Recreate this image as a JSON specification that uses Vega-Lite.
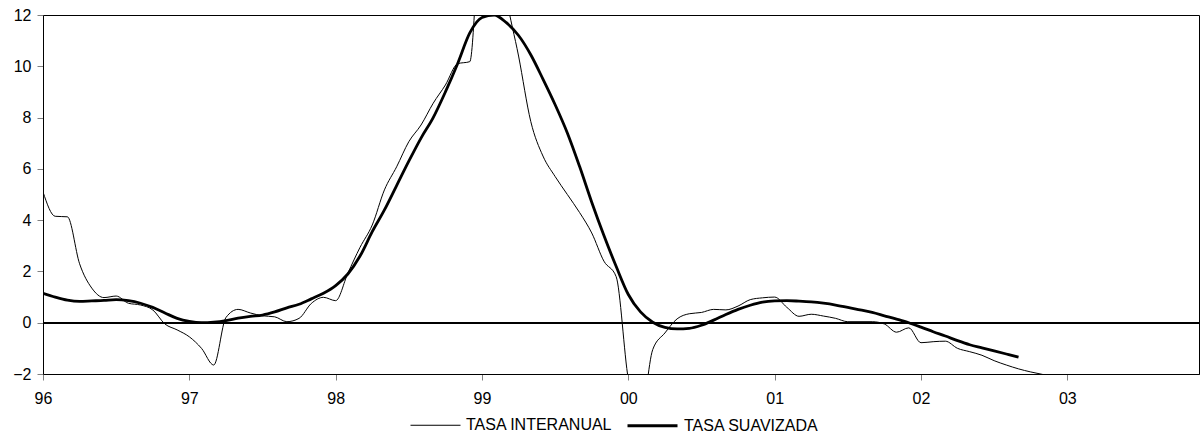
{
  "$schema": "https://vega.github.io/schema/vega-lite/v6.json",
  "width": 1156,
  "height": 359,
  "autosize": "none",
  "padding": {"left": 43, "top": 15, "right": 3, "bottom": 62},
  "background": "white",
  "config": {
    "font": "Liberation Sans",
    "view": {"stroke": "#000", "strokeWidth": 1},
    "axis": {"labelFont": "Liberation Sans", "labelFontSize": 16, "labelColor": "#000", "domainColor": "#000", "tickColor": "#808080", "grid": false, "title": null}
  },
  "data": {
    "values": [
      {"mes": 0, "interanual": 5.1, "suavizada": 1.15},
      {"mes": 1, "interanual": 4.15, "suavizada": 1.0},
      {"mes": 2, "interanual": 4.13, "suavizada": 0.88},
      {"mes": 3, "interanual": 2.3, "suavizada": 0.83},
      {"mes": 4, "interanual": 1.35, "suavizada": 0.85},
      {"mes": 5, "interanual": 0.98, "suavizada": 0.87},
      {"mes": 6, "interanual": 1.04, "suavizada": 0.9},
      {"mes": 7, "interanual": 0.76, "suavizada": 0.86},
      {"mes": 8, "interanual": 0.69, "suavizada": 0.76},
      {"mes": 9, "interanual": 0.5, "suavizada": 0.6},
      {"mes": 10, "interanual": -0.05, "suavizada": 0.38},
      {"mes": 11, "interanual": -0.28, "suavizada": 0.17},
      {"mes": 12, "interanual": -0.55, "suavizada": 0.05},
      {"mes": 13, "interanual": -1.0, "suavizada": 0.0},
      {"mes": 14, "interanual": -1.65, "suavizada": 0.02},
      {"mes": 15, "interanual": 0.2, "suavizada": 0.08},
      {"mes": 16, "interanual": 0.52, "suavizada": 0.18},
      {"mes": 17, "interanual": 0.38, "suavizada": 0.25},
      {"mes": 18, "interanual": 0.27, "suavizada": 0.3},
      {"mes": 19, "interanual": 0.23, "suavizada": 0.42},
      {"mes": 20, "interanual": 0.04, "suavizada": 0.58},
      {"mes": 21, "interanual": 0.17, "suavizada": 0.72},
      {"mes": 22, "interanual": 0.75, "suavizada": 0.93},
      {"mes": 23, "interanual": 0.99, "suavizada": 1.15},
      {"mes": 24, "interanual": 0.86, "suavizada": 1.45},
      {"mes": 25, "interanual": 1.93, "suavizada": 1.9},
      {"mes": 26, "interanual": 2.94, "suavizada": 2.6},
      {"mes": 27, "interanual": 3.81, "suavizada": 3.55},
      {"mes": 28, "interanual": 5.18, "suavizada": 4.4},
      {"mes": 29, "interanual": 6.08, "suavizada": 5.35},
      {"mes": 30, "interanual": 7.06, "suavizada": 6.3},
      {"mes": 31, "interanual": 7.71, "suavizada": 7.2},
      {"mes": 32, "interanual": 8.56, "suavizada": 8.0},
      {"mes": 33, "interanual": 9.27, "suavizada": 9.0},
      {"mes": 34, "interanual": 10.1, "suavizada": 10.1},
      {"mes": 35, "interanual": 10.18, "suavizada": 11.3},
      {"mes": 36, "interanual": 16.0, "suavizada": 11.9},
      {"mes": 37, "interanual": 16.0, "suavizada": 12.0},
      {"mes": 38, "interanual": 12.7, "suavizada": 11.7},
      {"mes": 39, "interanual": 10.4, "suavizada": 11.2},
      {"mes": 40, "interanual": 7.85, "suavizada": 10.45},
      {"mes": 41, "interanual": 6.5, "suavizada": 9.5},
      {"mes": 42, "interanual": 5.7, "suavizada": 8.5},
      {"mes": 43, "interanual": 5.0, "suavizada": 7.4},
      {"mes": 44, "interanual": 4.3, "suavizada": 6.1},
      {"mes": 45, "interanual": 3.5, "suavizada": 4.7},
      {"mes": 46, "interanual": 2.4, "suavizada": 3.4},
      {"mes": 47, "interanual": 1.8, "suavizada": 2.2},
      {"mes": 48, "interanual": -2.2, "suavizada": 1.1},
      {"mes": 49, "interanual": -3.6, "suavizada": 0.42},
      {"mes": 50, "interanual": -1.05, "suavizada": 0.02},
      {"mes": 51, "interanual": -0.4, "suavizada": -0.18},
      {"mes": 52, "interanual": 0.15, "suavizada": -0.24},
      {"mes": 53, "interanual": 0.35, "suavizada": -0.22},
      {"mes": 54, "interanual": 0.4, "suavizada": -0.1},
      {"mes": 55, "interanual": 0.52, "suavizada": 0.1},
      {"mes": 56, "interanual": 0.5, "suavizada": 0.32},
      {"mes": 57, "interanual": 0.65, "suavizada": 0.52},
      {"mes": 58, "interanual": 0.9, "suavizada": 0.68},
      {"mes": 59, "interanual": 0.97, "suavizada": 0.8},
      {"mes": 60, "interanual": 1.0, "suavizada": 0.85},
      {"mes": 61, "interanual": 0.6, "suavizada": 0.86},
      {"mes": 62, "interanual": 0.25, "suavizada": 0.84},
      {"mes": 63, "interanual": 0.33, "suavizada": 0.81},
      {"mes": 64, "interanual": 0.26, "suavizada": 0.76},
      {"mes": 65, "interanual": 0.17, "suavizada": 0.69},
      {"mes": 66, "interanual": 0.04, "suavizada": 0.6},
      {"mes": 67, "interanual": 0.04, "suavizada": 0.5},
      {"mes": 68, "interanual": 0.04, "suavizada": 0.4},
      {"mes": 69, "interanual": -0.05, "suavizada": 0.27},
      {"mes": 70, "interanual": -0.37, "suavizada": 0.14},
      {"mes": 71, "interanual": -0.2, "suavizada": 0.0},
      {"mes": 72, "interanual": -0.78, "suavizada": -0.17},
      {"mes": 73, "interanual": -0.74, "suavizada": -0.35},
      {"mes": 74, "interanual": -0.72, "suavizada": -0.52},
      {"mes": 75, "interanual": -1.0, "suavizada": -0.7},
      {"mes": 76, "interanual": -1.13, "suavizada": -0.86},
      {"mes": 77, "interanual": -1.27, "suavizada": -0.98},
      {"mes": 78, "interanual": -1.48, "suavizada": -1.1},
      {"mes": 79, "interanual": -1.65, "suavizada": -1.22},
      {"mes": 80, "interanual": -1.8, "suavizada": -1.34},
      {"mes": 81, "interanual": -1.92, "suavizada": null},
      {"mes": 82, "interanual": -2.02, "suavizada": null}
    ]
  },
  "layer": [
    {
      "mark": {"type": "rule", "color": "#000", "strokeWidth": 1},
      "encoding": {"y": {"datum": 0, "type": "quantitative"}}
    },
    {
      "transform": [{"fold": ["interanual", "suavizada"], "as": ["serie", "valor"]}],
      "mark": {"type": "line", "interpolate": "monotone", "clip": true},
      "encoding": {
        "x": {
          "field": "mes", "type": "quantitative",
          "scale": {"domain": [0, 94.8], "nice": false, "zero": false},
          "axis": {"values": [0, 12, 24, 36, 48, 60, 72, 84], "labelExpr": "['96','97','98','99','00','01','02','03'][round(datum.value/12)]", "tickSize": 6, "labelPadding": 10, "labelFlush": false}
        },
        "y": {
          "field": "valor", "type": "quantitative",
          "scale": {"domain": [-2, 12], "nice": false, "zero": false},
          "axis": {"values": [-2, 0, 2, 4, 6, 8, 10, 12], "tickSize": 6, "labelPadding": 6}
        },
        "color": {
          "field": "serie", "type": "nominal",
          "scale": {"domain": ["interanual", "suavizada"], "range": ["#000", "#000"]},
          "legend": {
            "title": null, "orient": "none", "legendX": 367, "legendY": 384, "direction": "horizontal",
            "symbolType": "stroke", "symbolSize": 2500, "symbolStrokeColor": "#000",
            "labelFont": "Liberation Sans", "labelFontSize": 16, "labelColor": "#000", "labelOffset": 5,
            "columnPadding": 8, "padding": 0,
            "labelExpr": "datum.label == 'interanual' ? 'TASA INTERANUAL' : 'TASA SUAVIZADA'"
          }
        },
        "strokeWidth": {
          "field": "serie", "type": "nominal",
          "scale": {"domain": ["interanual", "suavizada"], "range": [1, 2.8]},
          "legend": {
            "title": null, "orient": "none", "legendX": 367, "legendY": 384, "direction": "horizontal",
            "symbolType": "stroke", "symbolSize": 2500, "symbolStrokeColor": "#000",
            "labelFont": "Liberation Sans", "labelFontSize": 16, "labelColor": "#000", "labelOffset": 5,
            "columnPadding": 8, "padding": 0,
            "labelExpr": "datum.label == 'interanual' ? 'TASA INTERANUAL' : 'TASA SUAVIZADA'"
          }
        }
      }
    }
  ]
}
